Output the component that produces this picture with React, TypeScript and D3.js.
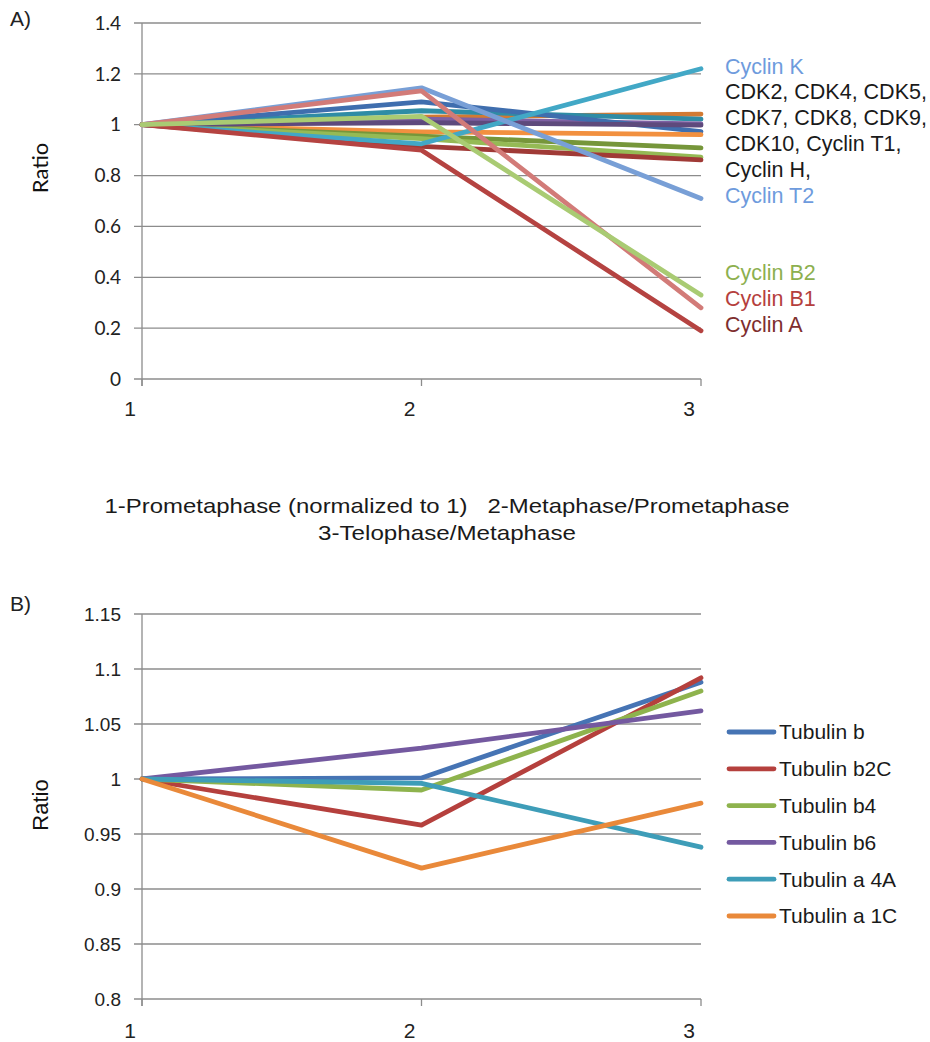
import React, { useEffect, useRef } from "react";
import * as d3 from "d3";

// stages on the x axis
const stages = ["1", "2", "3"];

// panel A: cyclins / CDKs
const yTicksA = [0, 0.2, 0.4, 0.6, 0.8, 1, 1.2, 1.4];
const namesA = [
  "CDK2", "CDK4", "CDK5", "CDK7", "CDK8", "CDK9", "CDK10", "Cyclin T1", "Cyclin H",
  "Cyclin K", "Cyclin A", "Cyclin T2", "Cyclin B1", "Cyclin B2",
];
const valuesA = [
  [1, 1.03, 1.042],
  [1, 1.055, 1.022],
  [1, 1.022, 1.003],
  [1, 1.09, 0.973],
  [1, 0.972, 0.961],
  [1, 0.955, 0.909],
  [1, 0.945, 0.872],
  [1, 0.915, 0.862],
  [1, 1.008, 0.998],
  [1, 0.925, 1.22],
  [1, 0.9, 0.19],
  [1, 1.145, 0.71],
  [1, 1.133, 0.28],
  [1, 1.033, 0.33],
];
const legendTopA = ["Cyclin K", "CDK2, CDK4, CDK5,", "CDK7, CDK8, CDK9,", "CDK10, Cyclin T1,", "Cyclin H,", "Cyclin T2"];
const legendLowA = ["Cyclin B2", "Cyclin B1", "Cyclin A"];

// panel B: tubulins
const yTicksB = [0.8, 0.85, 0.9, 0.95, 1, 1.05, 1.1, 1.15];
const namesB = ["Tubulin b", "Tubulin b2C", "Tubulin b4", "Tubulin b6", "Tubulin a 4A", "Tubulin a 1C"];
const valuesB = [
  [1, 1.001, 1.088],
  [1, 0.958, 1.092],
  [1, 0.99, 1.08],
  [1, 1.028, 1.062],
  [1, 0.996, 0.938],
  [1, 0.919, 0.978],
];

const footer = ["1-Prometaphase (normalized to 1)   2-Metaphase/Prometaphase", "3-Telophase/Metaphase"];

const colorsA = [
  "#D27A33", "#2F8CA5", "#7E60A3", "#3F6EAE", "#F2903F", "#76963A", "#95BA55", "#A03A36", "#5E4A7C",
  "#42A8C6", "#B54341", "#789FD6", "#D27B78", "#A9CB73",
];
const legendTopColorsA = ["#6E9BDD", "#1a1a1a", "#1a1a1a", "#1a1a1a", "#1a1a1a", "#6E9BDD"];
const legendLowColorsA = ["#8DB04F", "#B5403D", "#7E2E2E"];
const colorsB = ["#4674B4", "#B5403D", "#8EB34D", "#7459A0", "#3E9DB8", "#E9893A"];

const App = () => {
  const svgRef = useRef<SVGSVGElement>(null);

  useEffect(() => {
    const svg = d3.select(svgRef.current);
    svg.selectAll("*").remove();

    const left = 142;
    const right = 701;
    const gridColor = "#8c8c8c";

    const drawPanel = (
      yTicks: number[],
      y: d3.ScaleLinear<number, number>,
      names: string[],
      values: number[][],
      colors: string[],
      tickFont: string,
      ratioY: number,
      xLabelY: number
    ) => {
      const x = d3.scalePoint<string>().domain(stages).range([left, right]);
      const bottom = y(yTicks[0]);
      const top = y(yTicks[yTicks.length - 1]);
      const g = svg.append("g");

      // gridlines + tick marks
      g.selectAll(".grid")
        .data(yTicks)
        .enter()
        .append("line")
        .attr("x1", left - 8)
        .attr("x2", right)
        .attr("y1", (d) => y(d))
        .attr("y2", (d) => y(d))
        .attr("stroke", gridColor)
        .attr("stroke-width", 1.3);

      g.append("line")
        .attr("x1", left)
        .attr("x2", left)
        .attr("y1", top)
        .attr("y2", bottom + 7)
        .attr("stroke", gridColor)
        .attr("stroke-width", 1.3);

      g.selectAll(".xtick")
        .data(stages)
        .enter()
        .append("line")
        .attr("x1", (d) => x(d)!)
        .attr("x2", (d) => x(d)!)
        .attr("y1", bottom)
        .attr("y2", bottom + 7)
        .attr("stroke", gridColor)
        .attr("stroke-width", 1.3);

      g.selectAll(".ylab")
        .data(yTicks)
        .enter()
        .append("text")
        .attr("x", left - 21)
        .attr("y", (d) => y(d))
        .attr("dy", "0.35em")
        .attr("text-anchor", "end")
        .style("font-family", tickFont)
        .style("font-size", "19px")
        .attr("fill", "#222")
        .text((d) => `${d}`);

      g.selectAll(".xlab")
        .data(stages)
        .enter()
        .append("text")
        .attr("x", (d) => x(d)! - 12)
        .attr("y", xLabelY)
        .attr("text-anchor", "middle")
        .style("font-family", "'Liberation Sans', Arial, sans-serif")
        .style("font-size", "21px")
        .attr("fill", "#222")
        .text((d) => d);

      g.append("text")
        .attr("transform", `translate(48,${ratioY}) rotate(-90)`)
        .attr("text-anchor", "middle")
        .style("font-family", tickFont)
        .style("font-size", "22px")
        .attr("fill", "#111")
        .text("Ratio");

      const line = d3
        .line<number>()
        .x((_, i) => x(stages[i])!)
        .y((d) => y(d));

      values.forEach((vals, i) => {
        g.append("path")
          .datum(vals)
          .attr("class", "series")
          .attr("data-name", names[i])
          .attr("d", line)
          .attr("fill", "none")
          .attr("stroke", colors[i])
          .attr("stroke-width", 4.8)
          .attr("stroke-linecap", "round")
          .attr("stroke-linejoin", "round");
      });
    };

    const yA = d3.scaleLinear().domain([0, 1.4]).range([379, 23]);
    drawPanel(yTicksA, yA, namesA, valuesA, colorsA, "Lato, 'Open Sans', sans-serif", 168, 416);

    const yB = d3.scaleLinear().domain([0.8, 1.15]).range([999, 614]);
    drawPanel(yTicksB, yB, namesB, valuesB, colorsB, "'Liberation Sans', Arial, sans-serif", 805, 1038);

    const sans = "'Liberation Sans', Arial, sans-serif";

    // panel letters
    svg.append("text").attr("x", 10).attr("y", 26).style("font-family", sans).style("font-size", "21px").attr("fill", "#222").text("A)");
    svg.append("text").attr("x", 10).attr("y", 611).style("font-family", sans).style("font-size", "21px").attr("fill", "#222").text("B)");

    // panel A labels
    svg.selectAll(".legTop")
      .data(legendTopA)
      .enter()
      .append("text")
      .attr("x", 725)
      .attr("y", (_, i) => 66 + i * 25.8)
      .attr("dy", "0.35em")
      .style("font-family", sans)
      .style("font-size", "21.5px")
      .attr("fill", (_, i) => legendTopColorsA[i])
      .text((d) => d);

    svg.selectAll(".legLow")
      .data(legendLowA)
      .enter()
      .append("text")
      .attr("x", 725)
      .attr("y", (_, i) => 272 + i * 26)
      .attr("dy", "0.35em")
      .style("font-family", sans)
      .style("font-size", "21.5px")
      .attr("fill", (_, i) => legendLowColorsA[i])
      .text((d) => d);

    // footer caption
    svg.selectAll(".foot")
      .data(footer)
      .enter()
      .append("text")
      .attr("x", 447)
      .attr("y", (_, i) => 513 + i * 27)
      .attr("text-anchor", "middle")
      .attr("textLength", (_, i) => (i === 0 ? 685 : 258))
      .attr("lengthAdjust", "spacingAndGlyphs")
      .style("white-space", "pre")
      .style("font-family", sans)
      .style("font-size", "21px")
      .attr("fill", "#1a1a1a")
      .text((d) => d);

    // panel B legend
    const leg = svg.append("g");
    namesB.forEach((name, i) => {
      const ly = 732 + i * 36.8;
      leg.append("line")
        .attr("x1", 729)
        .attr("x2", 774)
        .attr("y1", ly)
        .attr("y2", ly)
        .attr("stroke", colorsB[i])
        .attr("stroke-width", 4.8)
        .attr("stroke-linecap", "round");
      leg.append("text")
        .attr("x", 779)
        .attr("y", ly)
        .attr("dy", "0.35em")
        .style("font-family", sans)
        .style("font-size", "21px")
        .attr("fill", "#1a1a1a")
        .text(name);
    });
  }, []);

  return (
    <svg
      ref={svgRef}
      width={930}
      height={1042}
      style={{ position: "absolute", left: 0, top: 0, background: "#fff" }}
    />
  );
};

export default App;
